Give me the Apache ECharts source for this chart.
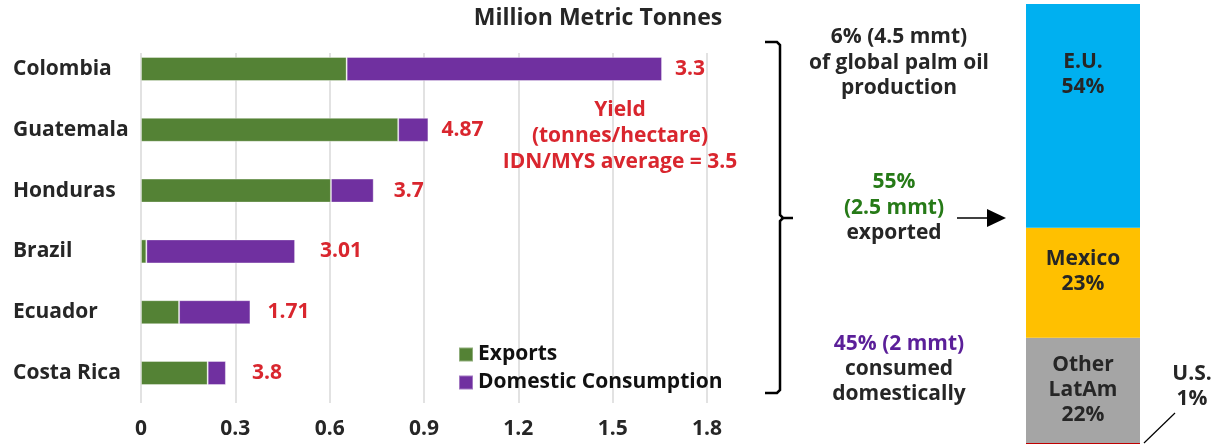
<!DOCTYPE html>
<html>
<head>
<meta charset="utf-8">
<script src="https://cdn.jsdelivr.net/npm/echarts@6/dist/echarts.min.js"></script>
<style>
html,body{margin:0;padding:0;background:#fff;}
#chart{width:1222px;height:444px;}
</style>
</head>
<body>
<div id="chart"></div>
<script>
// ---- data ----
const countries = ['Colombia', 'Guatemala', 'Honduras', 'Brazil', 'Ecuador', 'Costa Rica'];
const exportsMMT = [0.654, 0.818, 0.604, 0.017, 0.121, 0.212];
const domesticMMT = [1.003, 0.096, 0.136, 0.473, 0.227, 0.058];
const yieldTPH = ['3.3', '4.87', '3.7', '3.01', '1.71', '3.8'];
const xTickLabels = ['0', '0.3', '0.6', '0.9', '1.2', '1.5', '1.8'];
const destinations = ['U.S.', 'Other LatAm', 'Mexico', 'E.U.'];
const destShares = [1, 22, 23, 54];

// ---- styles ----
const FONT = 'Open Sans';
const FS = 21;
const DARK = '#262626';
const RED = '#D9262E';
const GREEN = '#548235';
const PURPLE = '#7030A0';
const destColors = ['#C00000', '#A5A5A5', '#FFC000', '#00B0F0'];
const yieldGap = [13, 13, 20, 25, 17, 26];
const F = 'bold ' + FS + 'px "Open Sans"';

const chart = echarts.init(document.getElementById('chart'), null, {renderer: 'canvas'});

const destSeries = destinations.map((name, i) => {
  const label = {
    show: true,
    fontFamily: FONT, fontWeight: 'bold', fontSize: FS, color: DARK, lineHeight: 25,
    formatter: () => name.replace(' ', '\n') + '\n' + destShares[i] + '%'
  };
  if (name === 'E.U.') { label.position = 'inside'; label.offset = [0, -41]; }
  else if (name === 'Mexico') { label.position = 'inside'; label.offset = [0, -11]; }
  else if (name === 'U.S.') { label.position = [166, -57]; label.align = 'center'; label.verticalAlign = 'middle'; }
  else { label.position = 'inside'; }
  return {
    name: name, type: 'bar', stack: 'dest', xAxisIndex: 2, yAxisIndex: 2,
    barWidth: '100%', clip: true,
    itemStyle: {color: destColors[i]},
    label: label,
    data: [destShares[i]]
  };
});

const option = {
  animation: false,
  textStyle: {fontFamily: FONT},
  title: {
    text: 'Million Metric Tonnes',
    left: 593, top: 2, textAlign: 'center',
    textStyle: {fontFamily: FONT, fontWeight: 'bold', fontSize: 23, color: DARK}
  },
  legend: {
    data: ['Exports', 'Domestic Consumption'],
    orient: 'vertical', left: 453, top: 339,
    icon: 'rect', itemWidth: 14, itemHeight: 14, itemGap: 7,
    textStyle: {fontFamily: FONT, fontWeight: 'bold', fontSize: FS, color: '#111', lineHeight: 21}
  },
  grid: [
    {left: 141, right: 515, top: 38.6, bottom: 40.6},
    {left: 141, right: 515, top: 53, bottom: 41},
    {left: 1026, width: 114, top: 4, height: 443.8, outerBoundsMode: 'none'}
  ],
  xAxis: [
    {gridIndex: 0, type: 'value', min: 0, max: 1.8, show: false},
    {gridIndex: 1, type: 'value', min: 0, max: 1.8, interval: 0.3,
     axisLine: {show: false}, axisTick: {show: false},
     splitLine: {show: true, lineStyle: {color: '#D9D9D9', width: 1.5}},
     axisLabel: {margin: 16, fontFamily: FONT, fontWeight: 'bold', fontSize: FS, color: DARK,
       formatter: (v, idx) => xTickLabels[idx]}},
    {gridIndex: 2, type: 'category', data: ['Exports'], show: false}
  ],
  yAxis: [
    {gridIndex: 0, type: 'category', data: countries, inverse: true,
     axisLine: {show: false}, axisTick: {show: false}, splitLine: {show: false},
     axisLabel: {align: 'left', margin: 128, fontFamily: FONT, fontWeight: 'bold', fontSize: FS, color: DARK}},
    {gridIndex: 1, type: 'value', show: false},
    {gridIndex: 2, type: 'value', min: 0, max: 92.8, show: false}
  ],
  series: [
    {name: 'Exports', type: 'bar', stack: 'c', xAxisIndex: 0, yAxisIndex: 0, barWidth: 24,
     itemStyle: {color: GREEN, borderColor: 'rgba(255,255,255,0.35)', borderWidth: 1},
     data: exportsMMT},
    {name: 'Domestic Consumption', type: 'bar', stack: 'c', xAxisIndex: 0, yAxisIndex: 0, barWidth: 24,
     itemStyle: {color: PURPLE, borderColor: 'rgba(255,255,255,0.35)', borderWidth: 1},
     label: {show: true, position: 'right', fontFamily: FONT, fontWeight: 'bold', fontSize: FS, color: RED,
       formatter: p => yieldTPH[p.dataIndex]},
     data: domesticMMT.map((v, i) => ({value: v, label: {distance: yieldGap[i]}}))}
  ].concat(destSeries),
  graphic: [
    {type: 'text', z: 10,
     style: {text: 'Yield\n(tonnes/hectare)\nIDN/MYS average = 3.5', x: 620, y: 136,
       textAlign: 'center', textVerticalAlign: 'middle', fill: RED,
       font: F, lineHeight: 26}},
    {type: 'text', z: 10,
     style: {text: '6% (4.5 mmt)\nof global palm oil\nproduction', x: 899, y: 63,
       textAlign: 'center', textVerticalAlign: 'middle', fill: DARK,
       font: F, lineHeight: 25.5}},
    {type: 'text', z: 10,
     style: {text: '{g|55%}\n{g|(2.5 mmt)}\n{d|exported}', x: 894, y: 208,
       textAlign: 'center', textVerticalAlign: 'middle',
       font: F,
       rich: {
         g: {fill: '#267A17', font: F, lineHeight: 25.5},
         d: {fill: DARK, font: F, lineHeight: 25.5}
       }}},
    {type: 'text', z: 10,
     style: {text: '{p|45% (2 mmt)}\n{d|consumed}\n{d|domestically}', x: 899, y: 369,
       textAlign: 'center', textVerticalAlign: 'middle',
       font: F,
       rich: {
         p: {fill: '#5B1F99', font: F, lineHeight: 25},
         d: {fill: DARK, font: F, lineHeight: 25}
       }}},
    {type: 'polyline', z: 10,
     shape: {points: [[765, 42], [777, 42], [780, 45], [780, 215], [783, 218], [793, 218]]},
     style: {fill: null, stroke: '#000', lineWidth: 2.5}},
    {type: 'polyline', z: 10,
     shape: {points: [[783, 218], [780, 221], [780, 390], [777, 393], [765, 393]]},
     style: {fill: null, stroke: '#000', lineWidth: 2.5}},
    {type: 'line', z: 10, shape: {x1: 957, y1: 218, x2: 992, y2: 218},
     style: {stroke: '#000', lineWidth: 1.5}},
    {type: 'polygon', z: 10, shape: {points: [[987, 209], [1006, 218], [987, 227]]},
     style: {fill: '#000'}},
    {type: 'line', z: 10, shape: {x1: 1144, y1: 443, x2: 1175, y2: 413},
     style: {stroke: '#000', lineWidth: 1.2}}
  ]
};
chart.setOption(option);
</script>
</body>
</html>
